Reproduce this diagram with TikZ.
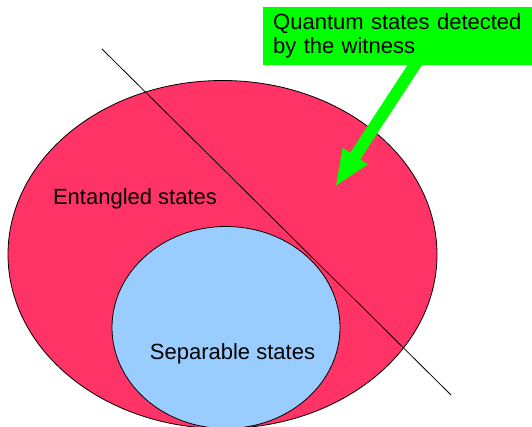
\documentclass[tikz,border=0pt]{standalone}
\usepackage{fontspec}
\setmainfont{Liberation Sans}
\usetikzlibrary{arrows.meta,shapes.geometric}
\definecolor{entangled}{HTML}{FF3366}
\definecolor{separable}{HTML}{99CCFF}
\definecolor{witness}{HTML}{00FF00}
\definecolor{ink}{HTML}{000000}
\pgfdeclarelayer{front}
\pgfsetlayers{main,front}
\tikzset{
  every node/.style={font=\fontsize{22}{24}\selectfont,text=ink},
  region/.style={ellipse,draw=ink,line width=0.8pt,inner sep=0pt},
  setname/.style={anchor=base,inner sep=0pt},
  callout/.style={fill=witness,anchor=north west,minimum width=269pt,minimum height=58pt,text width=249pt,align=left,inner xsep=10pt,inner ysep=0pt},
  pointer/.style={-{Triangle[length=37pt,width=27pt]},line width=12pt,draw=witness},
  cut/.style={draw=ink,line width=0.8pt},
}

\begin{document}
\begin{tikzpicture}[x=1pt,y=-1pt]
\useasboundingbox (0,0) rectangle (532,427);

\node[region,fill=entangled,minimum width=429pt,minimum height=348pt] (ent) at (222.5,254.5) {};
\node[region,fill=separable,minimum width=228pt,minimum height=202pt] (sep) at (226,327.5) {};
\node[setname] (entlabel) at (135,205) {Entangled states};
\node[setname] (seplabel) at (232.5,359) {Separable states};

\coordinate (w1) at (102,49);
\coordinate (w2) at (451,395);
\draw[cut] (w1) -- (w2);

\begin{pgfonlayer}{front}
\node[callout] (witnessbox) at (263,7) {Quantum states detected\\by the witness};
\end{pgfonlayer}
\coordinate (hit) at (335,187);
\draw[pointer] ([xshift=22pt,yshift=8pt]witnessbox.south) -- (hit);

\end{tikzpicture}
\end{document}
